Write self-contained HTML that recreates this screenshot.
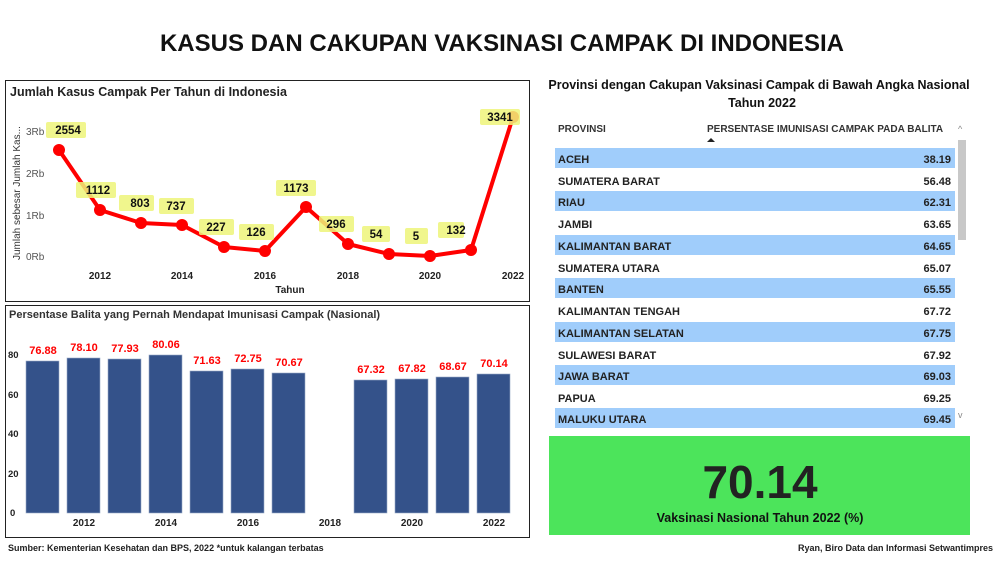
<!DOCTYPE html>
<html><head><meta charset="utf-8"><style>
html,body{margin:0;padding:0;background:#fff;}
svg{display:block;font-family:"Liberation Sans",sans-serif;}
</style></head><body>
<svg width="1004" height="561" viewBox="0 0 1004 561" xmlns="http://www.w3.org/2000/svg">
<rect width="1004" height="561" fill="#fff"/>
<text x="502" y="51" text-anchor="middle" font-size="24" font-weight="bold" fill="#111">KASUS DAN CAKUPAN VAKSINASI CAMPAK DI INDONESIA</text>

<rect x="5.5" y="80.5" width="524" height="221" fill="#fff" stroke="#222" stroke-width="1"/>
<text x="10" y="96" font-size="12.5" font-weight="bold" fill="#222">Jumlah Kasus Campak Per Tahun di Indonesia</text>
<text transform="translate(20,260) rotate(-90)" font-size="10" fill="#333">Jumlah sebesar Jumlah Kas...</text>
<g font-size="10" fill="#555">
<text x="26" y="135">3Rb</text><text x="26" y="177">2Rb</text><text x="26" y="219">1Rb</text><text x="26" y="260">0Rb</text>
</g>
<g font-size="10" font-weight="bold" fill="#222" text-anchor="middle">
<text x="100" y="279">2012</text><text x="182" y="279">2014</text><text x="265" y="279">2016</text><text x="348" y="279">2018</text><text x="430" y="279">2020</text><text x="513" y="279">2022</text>
<text x="290" y="293">Tahun</text>
</g>
<polyline fill="none" stroke="#f00" stroke-width="4" stroke-linejoin="round" points="59,150 100,210 141,223 182,225 224,247 265,251 306,207 348,244 389,254 430,256 471,250 513,117"/>
<g fill="#f00">
<circle cx="59" cy="150" r="6"/><circle cx="100" cy="210" r="6"/><circle cx="141" cy="223" r="6"/><circle cx="182" cy="225" r="6"/><circle cx="224" cy="247" r="6"/><circle cx="265" cy="251" r="6"/><circle cx="306" cy="207" r="6"/><circle cx="348" cy="244" r="6"/><circle cx="389" cy="254" r="6"/><circle cx="430" cy="256" r="6"/><circle cx="471" cy="250" r="6"/><circle cx="513" cy="117" r="6"/>
</g>
<g fill="#eef57a" opacity="0.85">
<rect x="46" y="122" width="40" height="16" rx="2"/><rect x="76" y="182" width="40" height="16" rx="2"/><rect x="119" y="195" width="35" height="16" rx="2"/><rect x="159" y="198" width="35" height="16" rx="2"/><rect x="199" y="219" width="35" height="16" rx="2"/><rect x="239" y="224" width="35" height="16" rx="2"/><rect x="276" y="180" width="40" height="16" rx="2"/><rect x="319" y="216" width="35" height="16" rx="2"/><rect x="362" y="226" width="28" height="16" rx="2"/><rect x="405" y="228" width="23" height="16" rx="2"/><rect x="438" y="222" width="26" height="16" rx="2"/><rect x="480" y="109" width="40" height="16" rx="2"/>
</g>
<g font-size="11.5" font-weight="bold" fill="#111" text-anchor="middle">
<text x="68" y="134">2554</text><text x="98" y="194">1112</text><text x="140" y="207">803</text><text x="176" y="210">737</text><text x="216" y="231">227</text><text x="256" y="236">126</text><text x="296" y="192">1173</text><text x="336" y="228">296</text><text x="376" y="238">54</text><text x="416" y="240">5</text><text x="456" y="234">132</text><text x="500" y="121">3341</text>
</g>

<rect x="5.5" y="305.5" width="524" height="232" fill="#fff" stroke="#222" stroke-width="1"/>
<text x="9" y="318" font-size="11" font-weight="bold" fill="#333">Persentase Balita yang Pernah Mendapat Imunisasi Campak (Nasional)</text>
<g font-size="9.5" font-weight="bold" fill="#222">
<text x="8" y="358">80</text><text x="8" y="398">60</text><text x="8" y="437">40</text><text x="8" y="477">20</text><text x="10" y="516">0</text>
</g>
<g fill="#34528a" stroke="#9aaac8" stroke-width="0.6">
<rect x="26" y="361" width="33" height="152"/><rect x="67" y="358" width="33" height="155"/><rect x="108" y="359" width="33" height="154"/><rect x="149" y="355" width="33" height="158"/><rect x="190" y="371" width="33" height="142"/><rect x="231" y="369" width="33" height="144"/><rect x="272" y="373" width="33" height="140"/>
<rect x="354" y="380" width="33" height="133"/><rect x="395" y="379" width="33" height="134"/><rect x="436" y="377" width="33" height="136"/><rect x="477" y="374" width="33" height="139"/>
</g>
<g font-size="11" font-weight="bold" fill="#f00" text-anchor="middle">
<text x="43" y="354">76.88</text><text x="84" y="351">78.10</text><text x="125" y="352">77.93</text><text x="166" y="348">80.06</text><text x="207" y="364">71.63</text><text x="248" y="362">72.75</text><text x="289" y="366">70.67</text><text x="371" y="373">67.32</text><text x="412" y="372">67.82</text><text x="453" y="370">68.67</text><text x="494" y="367">70.14</text>
</g>
<g font-size="10" font-weight="bold" fill="#222" text-anchor="middle">
<text x="84" y="526">2012</text><text x="166" y="526">2014</text><text x="248" y="526">2016</text><text x="330" y="526">2018</text><text x="412" y="526">2020</text><text x="494" y="526">2022</text>
</g>
<text x="8" y="551" font-size="9" font-weight="bold" fill="#222">Sumber: Kementerian Kesehatan dan BPS, 2022 *untuk kalangan terbatas</text>

<text x="759" y="89" text-anchor="middle" font-size="12.5" font-weight="bold" fill="#111">Provinsi dengan Cakupan Vaksinasi Campak di Bawah Angka Nasional</text>
<text x="762" y="107" text-anchor="middle" font-size="12.5" font-weight="bold" fill="#111">Tahun 2022</text>
<g font-size="10" font-weight="bold" fill="#333">
<text x="558" y="132">PROVINSI</text>
<text x="707" y="132">PERSENTASE IMUNISASI CAMPAK PADA BALITA</text>
</g>
<path d="M707 142 L711 138 L715 142 Z" fill="#222"/>
<text x="958" y="132" font-size="9" fill="#888">^</text>
<rect x="958" y="140" width="8" height="100" fill="#c8c8c8"/>
<text x="958" y="418" font-size="9" fill="#888">v</text>
<g fill="#a0cdfb">
<rect x="555" y="148" width="400" height="20"/><rect x="555" y="191" width="400" height="20"/><rect x="555" y="235" width="400" height="20"/><rect x="555" y="278" width="400" height="20"/><rect x="555" y="322" width="400" height="20"/><rect x="555" y="365" width="400" height="20"/><rect x="555" y="408" width="400" height="20"/>
</g>
<g font-size="11" font-weight="bold" fill="#222">
<text x="558" y="163">ACEH</text><text x="558" y="185">SUMATERA BARAT</text><text x="558" y="206">RIAU</text><text x="558" y="228">JAMBI</text><text x="558" y="250">KALIMANTAN BARAT</text><text x="558" y="272">SUMATERA UTARA</text><text x="558" y="293">BANTEN</text><text x="558" y="315">KALIMANTAN TENGAH</text><text x="558" y="337">KALIMANTAN SELATAN</text><text x="558" y="359">SULAWESI BARAT</text><text x="558" y="380">JAWA BARAT</text><text x="558" y="402">PAPUA</text><text x="558" y="423">MALUKU UTARA</text>
</g>
<g font-size="11" font-weight="bold" fill="#222" text-anchor="end">
<text x="951" y="163">38.19</text><text x="951" y="185">56.48</text><text x="951" y="206">62.31</text><text x="951" y="228">63.65</text><text x="951" y="250">64.65</text><text x="951" y="272">65.07</text><text x="951" y="293">65.55</text><text x="951" y="315">67.72</text><text x="951" y="337">67.75</text><text x="951" y="359">67.92</text><text x="951" y="380">69.03</text><text x="951" y="402">69.25</text><text x="951" y="423">69.45</text>
</g>

<rect x="549" y="436" width="421" height="99" fill="#4ce45b"/>
<text x="760" y="498" text-anchor="middle" font-size="46" font-weight="bold" fill="#222">70.14</text>
<text x="760" y="522" text-anchor="middle" font-size="12.5" font-weight="bold" fill="#111">Vaksinasi Nasional Tahun 2022 (%)</text>
<text x="993" y="551" text-anchor="end" font-size="9" font-weight="bold" fill="#222">Ryan, Biro Data dan Informasi Setwantimpres</text>
</svg>
</body></html>
